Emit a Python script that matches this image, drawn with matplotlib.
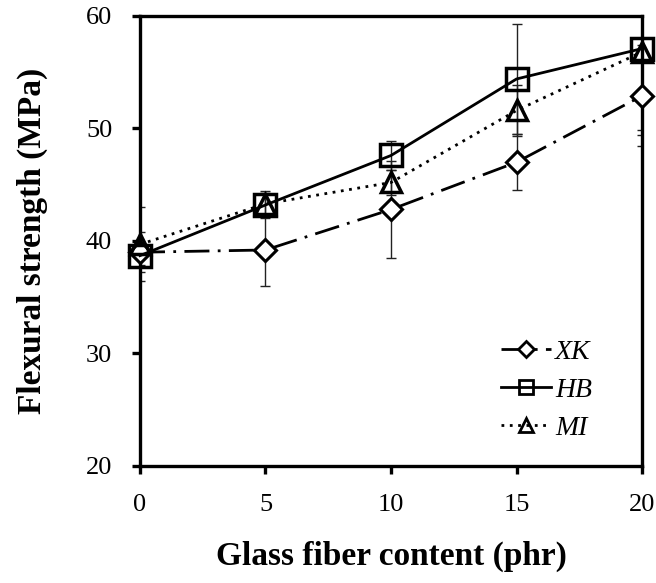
import matplotlib
matplotlib.use("Agg")
import matplotlib.pyplot as plt
from matplotlib.lines import Line2D

plt.rcParams['font.family'] = ['Liberation Serif', 'DejaVu Serif']

x = [0, 5, 10, 15, 20]
xk = [39.0, 39.2, 42.8, 47.0, 52.9]
xk_err = [1.8, 3.2, 4.3, 2.5, 4.5]
hb = [38.7, 43.2, 47.6, 54.4, 57.1]
hb_err = [0.8, 1.2, 1.3, 4.9, 7.2]
mi = [39.7, 43.3, 45.2, 51.6, 56.8]
mi_err = [3.3, 1.0, 1.1, 2.3, 7.4]

fig = plt.figure(figsize=(6.56, 5.83), dpi=100)
ax = fig.add_axes([0.2134, 0.2007, 0.9787 - 0.2134, 0.9726 - 0.2007])

ekw = dict(fmt='none', ecolor='#222222', elinewidth=1.0, capsize=3.5, capthick=1.0, zorder=2)
ax.errorbar(x, xk, yerr=xk_err, **ekw)
ax.errorbar(x, hb, yerr=hb_err, **ekw)
ax.errorbar(x, mi, yerr=mi_err, **ekw)

xk_style = dict(color='black', lw=2.0, dashes=(9, 3, 1, 3), marker='D', ms=11,
                mfc='white', mec='black', mew=2.2)
hb_style = dict(color='black', lw=2.0, ls='-', marker='s', ms=16,
                mfc='none', mec='black', mew=2.5)
mi_style = dict(color='black', lw=2.0, ls=(0, (1, 2)), marker='^', ms=15,
                mfc='none', mec='black', mew=2.5)
ax.plot(x, xk, clip_on=False, zorder=4, **xk_style)
ax.plot(x, hb, clip_on=False, zorder=5, **hb_style)
ax.plot(x, mi, clip_on=False, zorder=5, **mi_style)

ax.set_xlim(0, 20)
ax.set_ylim(20, 60)
ax.set_xticks([0, 5, 10, 15, 20])
ax.set_yticks([20, 30, 40, 50, 60])
for s in ax.spines.values():
    s.set_linewidth(2.4)
ax.tick_params(direction='out', length=6, width=2.4, labelsize=19)
ax.tick_params(axis='x', pad=14)
ax.tick_params(axis='y', pad=14)

ax.set_xlabel('Glass fiber content (phr)', fontsize=24, fontweight='bold', labelpad=18)
ax.set_ylabel('Flexural strength (MPa)', fontsize=24, fontweight='bold', labelpad=27)

handles = [Line2D([], [], **{**xk_style, 'ms': 8, 'mew': 2.0}),
           Line2D([], [], **{**hb_style, 'ms': 10, 'mew': 2.0}),
           Line2D([], [], **{**mi_style, 'ms': 10, 'mew': 2.0})]
ax.legend(handles, ['XK', 'HB', 'MI'], loc='lower right', bbox_to_anchor=(0.95, 0.0),
          frameon=False,
          prop={'family': 'Liberation Serif', 'style': 'italic', 'size': 20},
          handlelength=1.8, handletextpad=0.15, labelspacing=0.45)

fig.savefig('out.png', dpi=100)
